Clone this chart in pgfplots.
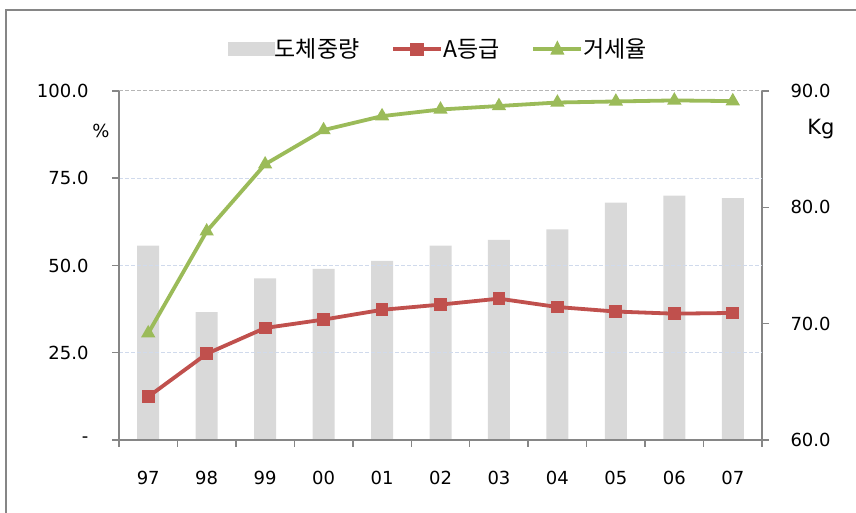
\documentclass[border=0pt]{standalone}
\usepackage{pgfplots}
\pgfplotsset{compat=1.18}
\usepackage{fontspec}
\setmainfont{DejaVu Sans}
\newfontfamily\kr{Noto Sans CJK KR}
\definecolor{barc}{HTML}{D9D9D9}
\definecolor{redc}{HTML}{C0504D}
\definecolor{greenc}{HTML}{9BBB59}
\definecolor{axc}{HTML}{868686}
\definecolor{gridc}{HTML}{D0DAEC}
\begin{document}
\begin{tikzpicture}
\path[use as bounding box] (0pt,0pt) rectangle (856pt,513pt);
\draw[axc, line width=2.5pt] (6pt,0pt) -- (6pt,503pt) -- (856pt,503pt);
% bars, right axis
\begin{axis}[at={(119pt,73pt)}, anchor=south west, scale only axis,
  width=643pt, height=349pt,
  xmin=-0.5, xmax=10.5, ymin=60, ymax=90,
  axis y line*=right, axis x line=none,
  ytick={60,70,80,90},
  yticklabel style={/pgf/number format/.cd, fixed, fixed zerofill, precision=1, assume math mode=true, /tikz/.cd, font=\fontsize{18}{20}\selectfont, anchor=west, xshift=18pt},
  tick align=outside, major tick length=7pt,
  y axis line style={-, axc, line width=2.5pt},
  ytick style={axc, line width=1.5pt},
]
\addplot[ybar, bar width=22pt, fill=barc, draw=none] coordinates {
(0,76.7) (1,71.0) (2,73.9) (3,74.7) (4,75.4) (5,76.7) (6,77.2) (7,78.1) (8,80.4) (9,81.0) (10,80.8)};
\end{axis}
% lines, left axis
\begin{axis}[at={(119pt,73pt)}, anchor=south west, scale only axis,
  width=643pt, height=349pt,
  xmin=-0.5, xmax=10.5, ymin=0, ymax=100,
  axis y line*=left, axis x line*=bottom,
  axis line style={-, axc, line width=2.5pt},
  xtick={-0.5,0.5,...,10.5}, x tick label as interval,
  xticklabels={97,98,99,00,01,02,03,04,05,06,07},
  ytick={0,25,50,75}, yticklabels={-,25.0,50.0,75.0},
  extra y ticks={100}, extra y tick labels={100.0},
  extra y tick style={grid style={axc!60, dashed, dash pattern=on 4pt off 2pt, line width=1pt}},
  ymajorgrids, grid style={gridc, dash pattern=on 4pt off 2pt, line width=1pt},
  tick align=outside, major tick length=7pt,
  tick style={axc, line width=1.5pt},
  ticklabel style={font=\fontsize{18}{20}\selectfont},
  yticklabel style={anchor=east, xshift=-20pt},
  xticklabel style={yshift=-21pt},
  legend columns=3,
  legend style={at={(0.497,1.12)}, anchor=center, draw=none, fill=none,
    font=\kr\fontsize{23}{26}\selectfont,
    /tikz/every even column/.append style={column sep=30pt},
    /tikz/every odd column/.append style={column sep=-2pt}},
  legend cell align=left,
]
\addlegendimage{area legend, legend image code/.code={\fill[barc] (0pt,-6.5pt) rectangle (46pt,6.5pt);}}
\addlegendentry{도체중량}
\addplot[redc, line width=3.8pt, mark=square*, mark size=4.5pt, mark options={solid},
  legend image code/.code={\draw[redc, line width=3.8pt] (0pt,0pt) -- (48pt,0pt); \fill[redc] (19pt,-4.5pt) rectangle (29pt,4.5pt);}]
coordinates {(0,12.4) (1,24.7) (2,32.1) (3,34.5) (4,37.3) (5,38.8) (6,40.5) (7,38.1) (8,36.8) (9,36.2) (10,36.4)};
\addlegendentry{A등급}
\addplot[greenc, line width=3.8pt, mark=triangle*, mark size=4.5pt, mark options={solid},
  legend image code/.code={\draw[greenc, line width=3.8pt] (0pt,0pt) -- (48pt,0pt); \fill[greenc] (20pt,-3.5pt) -- (28pt,-3.5pt) -- (24pt,4.5pt) -- cycle;}]
coordinates {(0,30.6) (1,59.8) (2,79.0) (3,88.8) (4,92.8) (5,94.7) (6,95.7) (7,96.7) (8,97.0) (9,97.3) (10,97.1)};
\addlegendentry{거세율}
\end{axis}
\node[font=\fontsize{18}{20}\selectfont] at (101pt,382pt) {\%};
\node[font=\fontsize{21}{24}\selectfont] at (821pt,384pt) {Kg};
\end{tikzpicture}
\end{document}
